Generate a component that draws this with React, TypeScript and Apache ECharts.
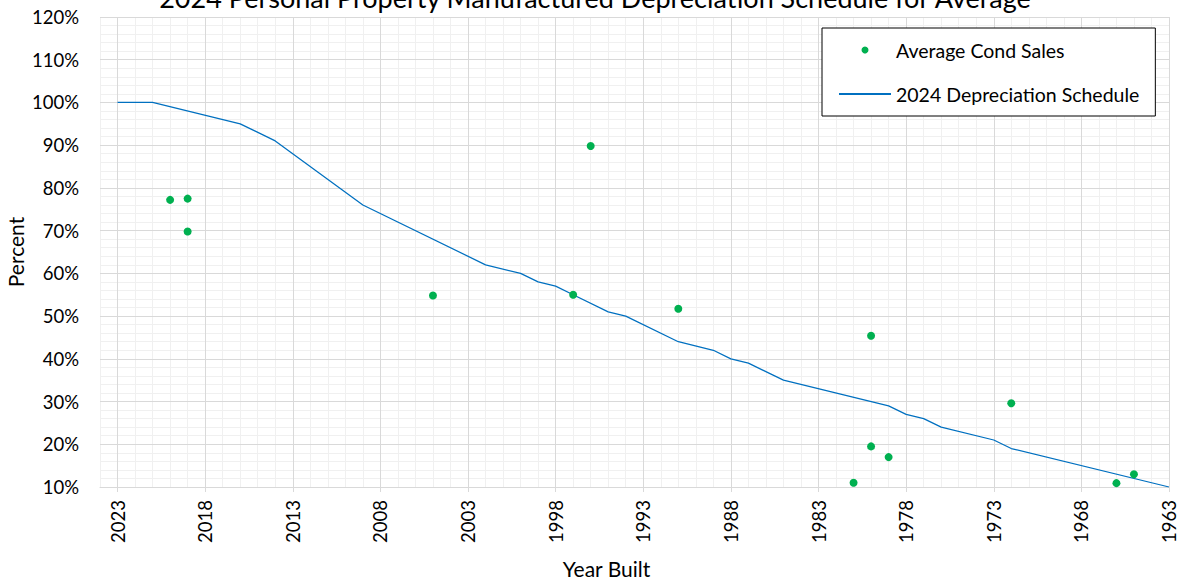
import React, { useEffect, useRef } from "react";
import * as echarts from "echarts";

// Depreciation schedule break points (year built, percent good)
const scheduleYears = [2023, 2021, 2016, 2014, 2009, 2002, 2000, 1999, 1998, 1997, 1995, 1994, 1991, 1989, 1988, 1987, 1985, 1979, 1978, 1977, 1976, 1973, 1972, 1963];
const schedulePercents = [100, 100, 95, 91, 76, 62, 60, 58, 57, 55, 51, 50, 44, 42, 40, 39, 35, 29, 27, 26, 24, 21, 19, 10];

// Average condition sales observations
const salesYears = [2020, 2019, 2019, 2005, 1996, 1997, 1991, 1980, 1980, 1979, 1981, 1972, 1966, 1965];
const salesPercents = [77.2, 77.5, 69.8, 54.8, 89.8, 55.0, 51.7, 45.4, 19.5, 17.0, 11.0, 29.6, 10.9, 13.0];

// Labelled years on the horizontal axis
const yearTicks = [2023, 2018, 2013, 2008, 2003, 1998, 1993, 1988, 1983, 1978, 1973, 1968, 1963];

const TITLE = "2024 Personal Property Manufactured Depreciation Schedule for Average";
const FONT = "Lato, 'Open Sans', sans-serif";
const TEXT = "#000000";
const MAJOR = "#D9D9D9";
const MINOR = "#F0F0F0";
const YEAR_MIN = 1963;
const YEAR_MAX = 2024;

export default function App() {
  const ref = useRef<HTMLDivElement>(null);

  useEffect(() => {
    if (!ref.current) return;
    const chart = echarts.init(ref.current, undefined, { renderer: "svg" });

    const schedule = scheduleYears.map((y, i) => [y, schedulePercents[i]]);
    const sales = salesYears.map((y, i) => [y, salesPercents[i]]);

    chart.setOption({
      animation: false,
      backgroundColor: "#ffffff",
      textStyle: { fontFamily: FONT, color: TEXT },
      title: {
        text: TITLE,
        left: 590,
        textAlign: "center",
        top: -21,
        textStyle: { fontFamily: FONT, fontSize: 27, fontWeight: "normal", color: TEXT },
      },
      legend: {
        orient: "vertical",
        left: 822,
        top: 28,
        backgroundColor: "#ffffff",
        borderColor: "#000000",
        borderWidth: 1,
        borderRadius: 0,
        padding: [12, 16, 12, 16],
        itemWidth: 52,
        itemHeight: 7,
        itemGap: 24,
        textStyle: { fontFamily: FONT, fontSize: 19.5, lineHeight: 20, color: TEXT },
        data: [
          { name: "Average Cond Sales", icon: "circle" },
          { name: "2024 Depreciation Schedule", itemStyle: { opacity: 0 } },
        ],
      },
      grid: {
        left: 100,
        right: 20,
        top: 17,
        bottom: 93,
        containLabel: false,
        outerBoundsMode: "none",
      },
      xAxis: [
        {
          // labelled years, major grid lines
          type: "value",
          inverse: true,
          min: YEAR_MIN,
          max: YEAR_MAX,
          interval: 1,
          z: 1,
          name: "Year Built",
          nameLocation: "middle",
          nameGap: 71,
          nameMoveOverlap: false,
          nameTextStyle: { fontFamily: FONT, fontSize: 21, color: TEXT, padding: [0, 56, 0, 0] },
          axisLine: { show: true, lineStyle: { color: MAJOR, width: 1 } },
          axisTick: { show: true, length: 5, customValues: yearTicks, lineStyle: { color: MAJOR } },
          axisLabel: {
            customValues: yearTicks,
            rotate: 90,
            margin: 13,
            fontFamily: FONT,
            fontSize: 18.5,
            color: TEXT,
            formatter: (v: number) => String(v),
          },
          splitLine: { show: true, lineStyle: { color: MAJOR, width: 1 } },
        },
        {
          // yearly minor grid lines
          type: "value",
          inverse: true,
          min: YEAR_MIN,
          max: YEAR_MAX,
          interval: 1,
          z: -1,
          position: "bottom",
          axisLine: { show: false },
          axisTick: { show: false },
          axisLabel: { show: false },
          splitLine: { show: true, lineStyle: { color: MINOR, width: 1 } },
        },
      ],
      yAxis: {
        type: "value",
        min: 10,
        max: 120,
        interval: 10,
        name: "Percent",
        nameLocation: "middle",
        nameRotate: 90,
        nameGap: 74,
        nameMoveOverlap: false,
        nameTextStyle: { fontFamily: FONT, fontSize: 21, color: TEXT },
        axisLine: { show: false },
        axisTick: { show: false },
        axisLabel: {
          margin: 21,
          fontFamily: FONT,
          fontSize: 18.5,
          color: TEXT,
          formatter: (v: number) => `${v}%`,
        },
        splitLine: { show: true, lineStyle: { color: MAJOR, width: 1 } },
        minorTick: { show: false, splitNumber: 5 },
        minorSplitLine: { show: true, lineStyle: { color: MINOR, width: 1 } },
      },
      series: [
        {
          name: "Average Cond Sales",
          type: "scatter",
          xAxisIndex: 0,
          data: sales,
          symbol: "circle",
          symbolSize: 8,
          symbolKeepAspect: true,
          itemStyle: { color: "#00B050", opacity: 1 },
          z: 3,
        },
        {
          name: "2024 Depreciation Schedule",
          type: "line",
          xAxisIndex: 0,
          data: schedule,
          showSymbol: false,
          symbol: "none",
          lineStyle: { color: "#0070C0", width: 1.25 },
          itemStyle: { color: "#0070C0" },
          z: 2,
        },
      ],
    });

    return () => chart.dispose();
  }, []);

  return (
    <div
      ref={ref}
      style={{ position: "fixed", left: 0, top: 0, width: 1189, height: 580 }}
    />
  );
}
